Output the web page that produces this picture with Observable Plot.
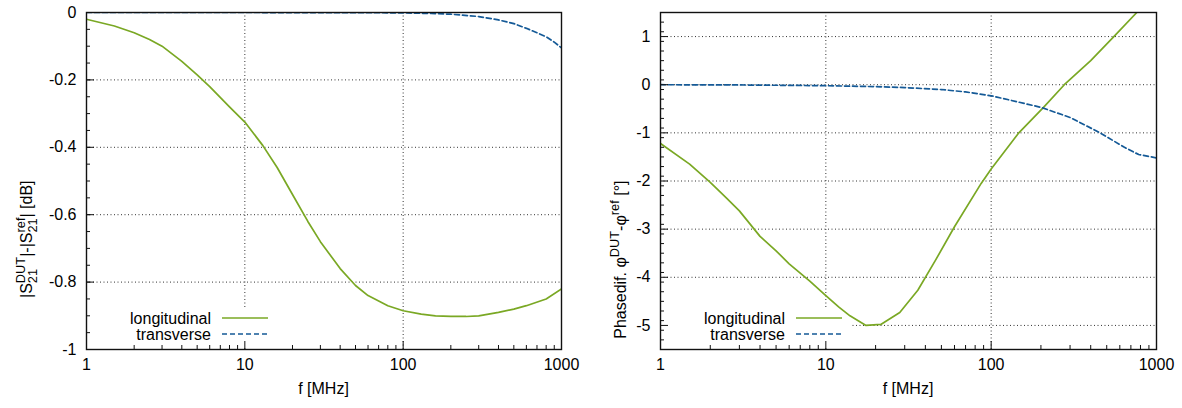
<!DOCTYPE html>
<html><head><meta charset="utf-8">
<script src="https://cdn.jsdelivr.net/npm/d3@7"></script>
<script src="https://cdn.jsdelivr.net/npm/@observablehq/plot@0.6"></script>
<style>
body{margin:0;background:#fff;}
#wrap{display:flex;width:1182px;height:408px;overflow:hidden;}
svg text{font-family:"Liberation Sans",Arial,Helvetica,sans-serif;}
</style></head><body><div id="wrap"></div>
<script>
// ---------- data ----------
const seriesNames = ["longitudinal", "transverse"];
const xTicks = [1, 10, 100, 1000];
const xGrid = [10, 100];
const xMinor = [2,3,4,5,6,7,8,9,20,30,40,50,60,70,80,90,200,300,400,500,600,700,800,900];

// left panel: magnitude difference [dB]
const magLongF = [1,1.5,2,2.5,3,4,5,6,8,10,13,16,20,25,30,40,50,60,80,100,130,160,200,250,300,400,500,600,800,1000];
const magLong  = [-0.02,-0.04,-0.06,-0.08,-0.10,-0.145,-0.185,-0.22,-0.28,-0.325,-0.395,-0.46,-0.54,-0.62,-0.68,-0.76,-0.81,-0.84,-0.87,-0.885,-0.895,-0.90,-0.902,-0.902,-0.90,-0.89,-0.88,-0.87,-0.85,-0.82];
const magTransF = [1,10,50,100,150,200,300,400,500,600,700,800,900,1000];
const magTrans  = [0,0,-0.0005,-0.001,-0.003,-0.005,-0.012,-0.022,-0.033,-0.047,-0.06,-0.072,-0.088,-0.105];
const magYTicks = [0,-0.2,-0.4,-0.6,-0.8,-1];
const magYGrid = [-0.2,-0.4,-0.6,-0.8];

// right panel: phase difference [deg]
const phaseLongF = [1,1.5,2,2.5,3,4,5,6,8,10,12,14,17.5,21.5,28,36,46,60,87,100,147,206,277,400,552,760,1000];
const phaseLong  = [-1.22,-1.65,-2.03,-2.35,-2.62,-3.15,-3.45,-3.72,-4.08,-4.38,-4.62,-4.8,-5.0,-4.98,-4.73,-4.27,-3.65,-2.95,-2.05,-1.75,-1.0,-0.48,0,0.5,1.0,1.5,1.9];
const phaseTransF = [1,3,10,20,30,50,70,100,130,200,300,450,640,780,1000];
const phaseTrans  = [0,-0.005,-0.02,-0.04,-0.06,-0.1,-0.15,-0.23,-0.32,-0.47,-0.68,-0.99,-1.30,-1.45,-1.52];
const phaseYTicks = [1,0,-1,-2,-3,-4,-5];
const phaseYGrid = [1,0,-1,-2,-3,-4,-5];

const GREEN = "#7aa824", BLUE = "#155a97";
const H = 408, MT = 12, MB = 59, FS = 16, SS = 12.8;

// Arial / Liberation Sans advance widths (per 1000 em) for label layout
const AW = {"|":260,"S":667,"D":722,"U":722,"T":611,"r":333,"e":556,"f":278,"2":556,"1":556,"-":333," ":278,
  "[":278,"]":278,"d":556,"B":667,"P":667,"h":556,"a":556,"s":500,"i":222,".":278,"φ":650,"°":400};
const tw = (t, fs) => [...t].reduce((s, c) => s + (AW[c] || 556), 0) * fs / 1000;

function table(fs, vs) { return fs.map((f, i) => ({f, v: vs[i]})); }
function minorTicks(domain, step) {
  const out = [];
  const n = Math.round((domain[1] - domain[0]) / step);
  for (let i = 0; i <= n; i++) out.push(+(domain[0] + i * step).toFixed(4));
  return out;
}

function makeChart(cfg) {
  const {width, marginLeft, marginRight, yDomain, yTicks, yGrid, yStep, long, trans} = cfg;
  const innerW = width - marginLeft - marginRight, innerH = H - MT - MB;
  const yMinor = minorTicks(yDomain, yStep);
  return Plot.plot({
    width, height: H, marginLeft, marginRight, marginTop: MT, marginBottom: MB,
    style: {fontFamily: "Liberation Sans, Arial, sans-serif", fontSize: FS + "px", color: "#000", background: "#fff", overflow: "visible"},
    x: {type: "log", domain: [1, 1000]},
    y: {domain: yDomain},
    marks: [
      Plot.ruleX(xGrid, {x: d => d, stroke: "#333", strokeWidth: 1, strokeDasharray: "1,2.5"}),
      Plot.ruleY(yGrid, {y: d => d, stroke: "#333", strokeWidth: 1, strokeDasharray: "1,2.5"}),
      Plot.line(long, {x: "f", y: "v", stroke: GREEN, strokeWidth: 1.7, clip: true}),
      Plot.line(trans, {x: "f", y: "v", stroke: BLUE, strokeWidth: 1.7, strokeDasharray: "5,3", clip: true}),
      Plot.tickX(xMinor, {x: d => d, insetTop: innerH - 4, stroke: "#111"}),
      Plot.tickX(xTicks, {x: d => d, insetTop: innerH - 8, stroke: "#111"}),
      Plot.tickY(yMinor, {y: d => d, insetRight: innerW - 4, stroke: "#111"}),
      Plot.tickY(yTicks, {y: d => d, insetRight: innerW - 8, stroke: "#111"}),
      Plot.axisX(xTicks, {tickSize: 0, tickPadding: 9, tickFormat: d => String(d), label: null, fontSize: FS}),
      Plot.axisY(yTicks, {tickSize: 0, tickPadding: 10, tickFormat: d => String(d), label: null, fontSize: FS}),
      Plot.frame({stroke: "#111", strokeWidth: 1.4})
    ]
  });
}

function decorate(chart, cfg) {
  const svg = d3.select(chart);
  const {width, marginLeft, marginRight} = cfg;
  const fl = marginLeft, fr = width - marginRight, fb = H - MB;
  // opaque key box: above grid, below curves
  svg.insert("rect", 'g[aria-label="line"]')
    .attr("x", fl + 1).attr("y", fb - 40).attr("width", 190).attr("height", 39)
    .attr("fill", "#fff");
  // legend
  const lg = svg.append("g").attr("font-size", FS);
  const rows = [{name: seriesNames[0], color: GREEN, dash: null}, {name: seriesNames[1], color: BLUE, dash: "5,3"}];
  rows.forEach((r, i) => {
    const yy = fb - 31 + i * 16;
    lg.append("text").attr("x", fl + 125).attr("y", yy).attr("dy", "0.35em")
      .attr("text-anchor", "end").attr("fill", "#000").text(r.name);
    lg.append("line").attr("x1", fl + 136).attr("x2", fl + 182).attr("y1", yy).attr("y2", yy)
      .attr("stroke", r.color).attr("stroke-width", 1.7).attr("stroke-dasharray", r.dash);
  });
  // x axis title
  svg.append("text").attr("x", (fl + fr) / 2).attr("y", 394).attr("text-anchor", "middle")
    .attr("font-size", FS).attr("fill", "#000").text("f [MHz]");
  // y axis title with stacked sub/superscripts, one text element
  const total = d3.sum(cfg.ylabel, p => p.t !== undefined ? tw(p.t, FS) : Math.max(p.sup ? tw(p.sup, SS) : 0, p.sub ? tw(p.sub, SS) : 0));
  const txt = svg.append("text")
    .attr("transform", `translate(${cfg.ylabelX},${(MT + fb) / 2}) rotate(-90)`)
    .attr("x", -total / 2).attr("y", 0).attr("fill", "#000").attr("font-size", FS)
    .style("white-space", "pre");
  let pendDx = 0, curDy = 0;
  const SUP = -7, SUB = 4.5;
  cfg.ylabel.forEach(p => {
    if (p.t !== undefined) {
      txt.append("tspan").attr("dx", pendDx).attr("dy", -curDy).attr("font-size", FS).text(p.t);
      pendDx = 0; curDy = 0;
    } else {
      const wsup = p.sup ? tw(p.sup, SS) : 0, wsub = p.sub ? tw(p.sub, SS) : 0;
      const w = Math.max(wsup, wsub);
      if (p.sub) {
        txt.append("tspan").attr("dx", pendDx).attr("dy", SUB - curDy).attr("font-size", SS).text(p.sub);
        curDy = SUB; pendDx = -wsub;
      }
      if (p.sup) {
        txt.append("tspan").attr("dx", pendDx).attr("dy", SUP - curDy).attr("font-size", SS).text(p.sup);
        curDy = SUP; pendDx = w - wsup;
      } else {
        pendDx = w - wsub;
      }
    }
  });
}

const cfgL = {
  width: 591, marginLeft: 86, marginRight: 30, yDomain: [-1, 0], yTicks: magYTicks, yGrid: magYGrid, yStep: 0.05,
  long: table(magLongF, magLong), trans: table(magTransF, magTrans), ylabelX: 32,
  ylabel: [{t: "|S"}, {sub: "21", sup: "DUT"}, {t: "|-|S"}, {sub: "21", sup: "ref"}, {t: "| [dB]"}]
};
const cfgR = {
  width: 591, marginLeft: 69, marginRight: 26, yDomain: [-5.5, 1.5], yTicks: phaseYTicks, yGrid: phaseYGrid, yStep: 0.2,
  long: table(phaseLongF, phaseLong), trans: table(phaseTransF, phaseTrans), ylabelX: 35,
  ylabel: [{t: "Phasedif. φ"}, {sup: "DUT"}, {t: "-φ"}, {sup: "ref"}, {t: " [°]"}]
};
const wrap = document.getElementById("wrap");
[cfgL, cfgR].forEach(cfg => {
  const c = makeChart(cfg);
  wrap.appendChild(c);
  decorate(c, cfg);
});
</script>
</body></html>
